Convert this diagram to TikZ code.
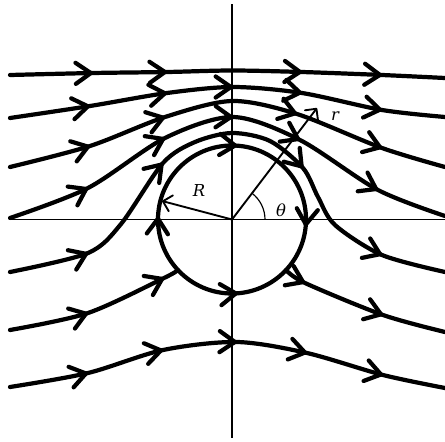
\documentclass[tikz,border=0pt]{standalone}
\usepackage{fontspec}
\newfontfamily\labfont{DejaVu Serif}
\usetikzlibrary{arrows.meta,calc}
\tikzset{
  stream/.style={line width=3.6pt, line cap=round, line join=round},
  streamarrow/.style={line width=3.6pt, line cap=round, -{Straight Barb[length=13pt,width=18pt,round]}},
  axis/.style={line width=1pt},
  vecarrow/.style={line width=1.6pt, -{Straight Barb[length=7pt,width=14pt,round]}},
  lab/.style={font=\labfont\itshape\fontsize{14}{16}\selectfont, inner sep=0pt},
}
\newcommand\arrat[3]{\draw[streamarrow] let \p1=($(#3)-(#1)$), \n1={atan2(\y1,\x1)+180} in ($(#2)+(\n1:6pt)$) -- (#2);}
\newcommand\arrdir[2]{\draw[streamarrow] (#1) ++(#2+180:6pt) -- (#1);}
\begin{document}
\begin{tikzpicture}[x=0.03cm,y=-0.03cm]
\useasboundingbox (0,0) rectangle (445,441);
\coordinate (O) at (232,219.5);
\coordinate (ytop) at (232,4);
\coordinate (ybot) at (232,438);
\coordinate (xl) at (10,219.5);
\coordinate (xr) at (445,219.5);
\coordinate (Rtip) at (162,201);
\coordinate (rtip) at (317,108);
% axes
\draw[axis] (ytop) -- (ybot);
\draw[axis] (xl) -- (xr);
% cylinder
\draw[stream] (O) circle[radius=74];
\arrdir{$(O)+(-177.7:74)$}{87.7}
\arrdir{$(O)+(-86:74)$}{-4}
\arrdir{$(O)+(5.4:74)$}{-95.4}
\arrdir{$(O)+(85.4:74)$}{4.6}
% streamline 1
\draw[stream] plot[smooth] coordinates {(10,75) (93,73) (167,72) (232,70.5) (302,72) (382,75) (445,78)};
\arrat{10,75}{93,73}{167,72}
\arrat{93,73}{167,72}{232,70.5}
\arrat{232,70.5}{302,72}{382,75}
\arrat{302,72}{382,75}{445,78}
% streamline 2
\draw[stream] plot[smooth] coordinates {(10,118) (90,106) (167,93) (233,87) (302,93) (382,110) (445,117)};
\arrat{10,118}{90,106}{167,93}
\arrat{90,106}{167,93}{233,87}
\arrat{167,93}{233,87}{302,93}
\arrat{233,87}{302,93}{382,110}
\arrat{302,93}{382,110}{445,117}
% streamline 3
\draw[stream] plot[smooth] coordinates {(10,167) (90,146) (165,117) (232,101) (297,114) (382,148) (445,167)};
\arrat{10,167}{90,146}{165,117}
\arrat{90,146}{165,117}{232,101}
\arrat{232,101}{297,114}{382,148}
\arrat{297,114}{382,148}{445,167}
% streamline 4
\draw[stream] plot[smooth] coordinates {(10,218) (88,188) (165,138) (233,117) (300,140) (378,190) (445,216)};
\arrat{10,218}{88,188}{165,138}
\arrat{88,188}{165,138}{233,117}
\arrat{165,138}{233,117}{300,140}
\arrat{233,117}{300,140}{378,190}
\arrat{300,140}{378,190}{445,216}
% streamline 5
\draw[stream] plot[smooth] coordinates {(10,272) (88,253) (121,224) (163,163) (195,142) (232,133) (270,141) (303,168) (318,197) (335,225) (382,255) (445,272)};
\arrat{10,272}{88,253}{121,224}
\arrat{121,224}{163,163}{195,142}
\arrat{270,141}{303,168}{318,197}
\arrat{335,225}{382,255}{445,272}
% streamline 6
\draw[stream] plot[smooth] coordinates {(10,330) (88,313) (164,278) (178,270)};
\arrat{10,330}{88,313}{164,278}
\arrat{88,313}{164,278}{178,270}
\draw[stream] plot[smooth] coordinates {(286,270) (305,283) (383,315) (445,332)};
\arrat{286,270}{305,283}{383,315}
\arrat{305,283}{383,315}{445,332}
% streamline 7
\draw[stream] plot[smooth] coordinates {(10,387) (88,373) (163,350) (237,342) (307,353) (383,375) (445,388)};
\arrat{10,387}{88,373}{163,350}
\arrat{88,373}{163,350}{237,342}
\arrat{163,350}{237,342}{307,353}
\arrat{237,342}{307,353}{383,375}
\arrat{307,353}{383,375}{445,388}
% radius vectors and angle
\draw[vecarrow] (O) -- (Rtip);
\draw[vecarrow] (O) -- (rtip);
\draw[axis] ($(O)+(33,0)$) arc[start angle=0, end angle=-52.7, radius=33];
\node[lab] (Rlab) at (199,191) {R};
\node[lab] (rlab) at (335,116) {r};
\node[lab] (thlab) at (281,210) {θ};
\end{tikzpicture}
\end{document}
